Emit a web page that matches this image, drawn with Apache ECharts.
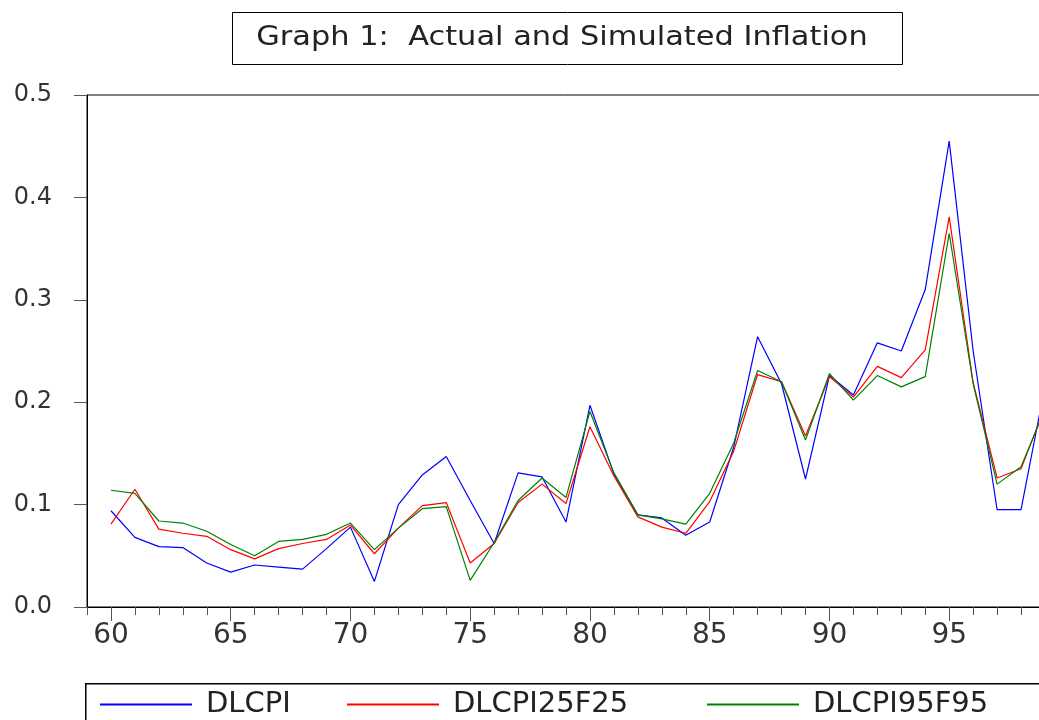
<!DOCTYPE html>
<html>
<head>
<meta charset="utf-8">
<script src="https://cdn.jsdelivr.net/npm/echarts@6/dist/echarts.min.js"></script>
<style>
  html, body { margin: 0; padding: 0; background: #fff; }
  #chartContainer { width: 1039px; height: 720px; }
</style>
</head>
<body>
<div id="chartContainer"></div>
<script>
var FONT = "DejaVu Sans";

// years 1960..1999, shown as two digits
var years = [60, 61, 62, 63, 64, 65, 66, 67, 68, 69,
  70, 71, 72, 73, 74, 75, 76, 77, 78, 79,
  80, 81, 82, 83, 84, 85, 86, 87, 88, 89,
  90, 91, 92, 93, 94, 95, 96, 97, 98, 99];
var majorYears = [60, 65, 70, 75, 80, 85, 90, 95];

var dlcpi = [0.094, 0.068, 0.059, 0.058, 0.043, 0.034, 0.041, 0.039, 0.037, 0.057,
  0.078, 0.025, 0.100, 0.129, 0.147, 0.104, 0.062, 0.131, 0.127, 0.083,
  0.197, 0.130, 0.090, 0.087, 0.070, 0.083, 0.156, 0.264, 0.218, 0.125,
  0.226, 0.207, 0.258, 0.250, 0.310, 0.455, 0.250, 0.095, 0.095, 0.216];
var dlcpi25 = [0.081, 0.115, 0.076, 0.072, 0.069, 0.056, 0.047, 0.057, 0.062, 0.066,
  0.080, 0.052, 0.077, 0.099, 0.102, 0.043, 0.062, 0.102, 0.120, 0.101,
  0.176, 0.128, 0.088, 0.078, 0.072, 0.103, 0.152, 0.227, 0.220, 0.167,
  0.225, 0.205, 0.235, 0.224, 0.251, 0.381, 0.219, 0.126, 0.135, 0.195];
var dlcpi95 = [0.114, 0.111, 0.084, 0.082, 0.074, 0.061, 0.050, 0.064, 0.066, 0.071,
  0.082, 0.056, 0.077, 0.096, 0.098, 0.026, 0.063, 0.104, 0.126, 0.107,
  0.191, 0.131, 0.090, 0.086, 0.081, 0.111, 0.160, 0.231, 0.220, 0.163,
  0.228, 0.202, 0.226, 0.215, 0.225, 0.365, 0.218, 0.120, 0.137, 0.193];

var seriesNames = ["DLCPI", "DLCPI25F25", "DLCPI95F95"];
var seriesColors = ["#0000ff", "#ff0000", "#008000"];
var legendLeft = [100, 347, 707];

function pairs(values) {
  return years.map((y, i) => [y, values[i]]);
}

var CHART = echarts.init(document.getElementById("chartContainer"), null, { renderer: "canvas" });

var legends = seriesNames.map((name, i) => ({
  data: [name],
  left: legendLeft[i],
  top: 690,
  icon: "rect",
  itemWidth: 92,
  itemHeight: 2,
  itemGap: 0,
  padding: 0,
  selectedMode: false,
  textStyle: { fontFamily: FONT, fontSize: 29, color: "#222", padding: [0, 0, 0, 9] },
}));

var CHART_OPTION = {
  animation: false,
  backgroundColor: "#fff",
  grid: {
    left: 87,
    top: 95,
    bottom: 113,
    width: 958,
    outerBoundsMode: "none",
    show: true,
    borderColor: "#000",
    borderWidth: 1,
  },
  graphic: [
    {
      type: "rect",
      left: 232,
      top: 12,
      shape: { width: 670, height: 52 },
      style: { fill: "#fff", stroke: "#000", lineWidth: 1 },
    },
    {
      type: "text",
      x: 562,
      y: 38,
      scaleX: 1.17,
      originX: 0,
      style: {
        text: "Graph 1:  Actual and Simulated Inflation",
        font: "26px " + FONT,
        fill: "#222",
        textAlign: "center",
        textVerticalAlign: "middle",
      },
    },
    {
      type: "rect",
      left: 85,
      top: 683,
      z: -1,
      shape: { width: 1000, height: 60 },
      style: { fill: "#fff", stroke: "#000", lineWidth: 1.5 },
    },
  ],
  legend: legends,
  xAxis: [
    {
      type: "value",
      min: 59,
      max: 99,
      interval: 1,
      axisLine: { lineStyle: { color: "#000", width: 1 } },
      axisTick: { length: 8, lineStyle: { color: "#555" } },
      axisLabel: { show: false },
      splitLine: { show: false },
    },
    {
      type: "value",
      position: "bottom",
      min: 59,
      max: 99,
      interval: 1,
      axisLine: { show: false },
      axisTick: { length: 14, customValues: majorYears, lineStyle: { color: "#555" } },
      axisLabel: {
        customValues: majorYears,
        fontFamily: FONT,
        fontSize: 28,
        color: "#333",
        margin: 15,
      },
      splitLine: { show: false },
    },
  ],
  yAxis: {
    type: "value",
    min: 0,
    max: 0.5,
    interval: 0.1,
    axisLine: { show: true, lineStyle: { color: "#000", width: 1 } },
    axisTick: { show: true, length: 13, lineStyle: { color: "#555" } },
    axisLabel: {
      fontFamily: FONT,
      fontSize: 24,
      color: "#333",
      margin: 35,
      formatter: (v) => v.toFixed(1),
    },
    splitLine: { show: false },
  },
  series: [],
};

[dlcpi, dlcpi25, dlcpi95].forEach((values, i) => {
  CHART_OPTION.series.push({
    name: seriesNames[i],
    type: "line",
    xAxisIndex: 0,
    data: pairs(values),
    symbol: "none",
    color: seriesColors[i],
    lineStyle: { width: 1.2, color: seriesColors[i] },
  });
});

CHART.setOption(CHART_OPTION);
</script>
</body>
</html>
